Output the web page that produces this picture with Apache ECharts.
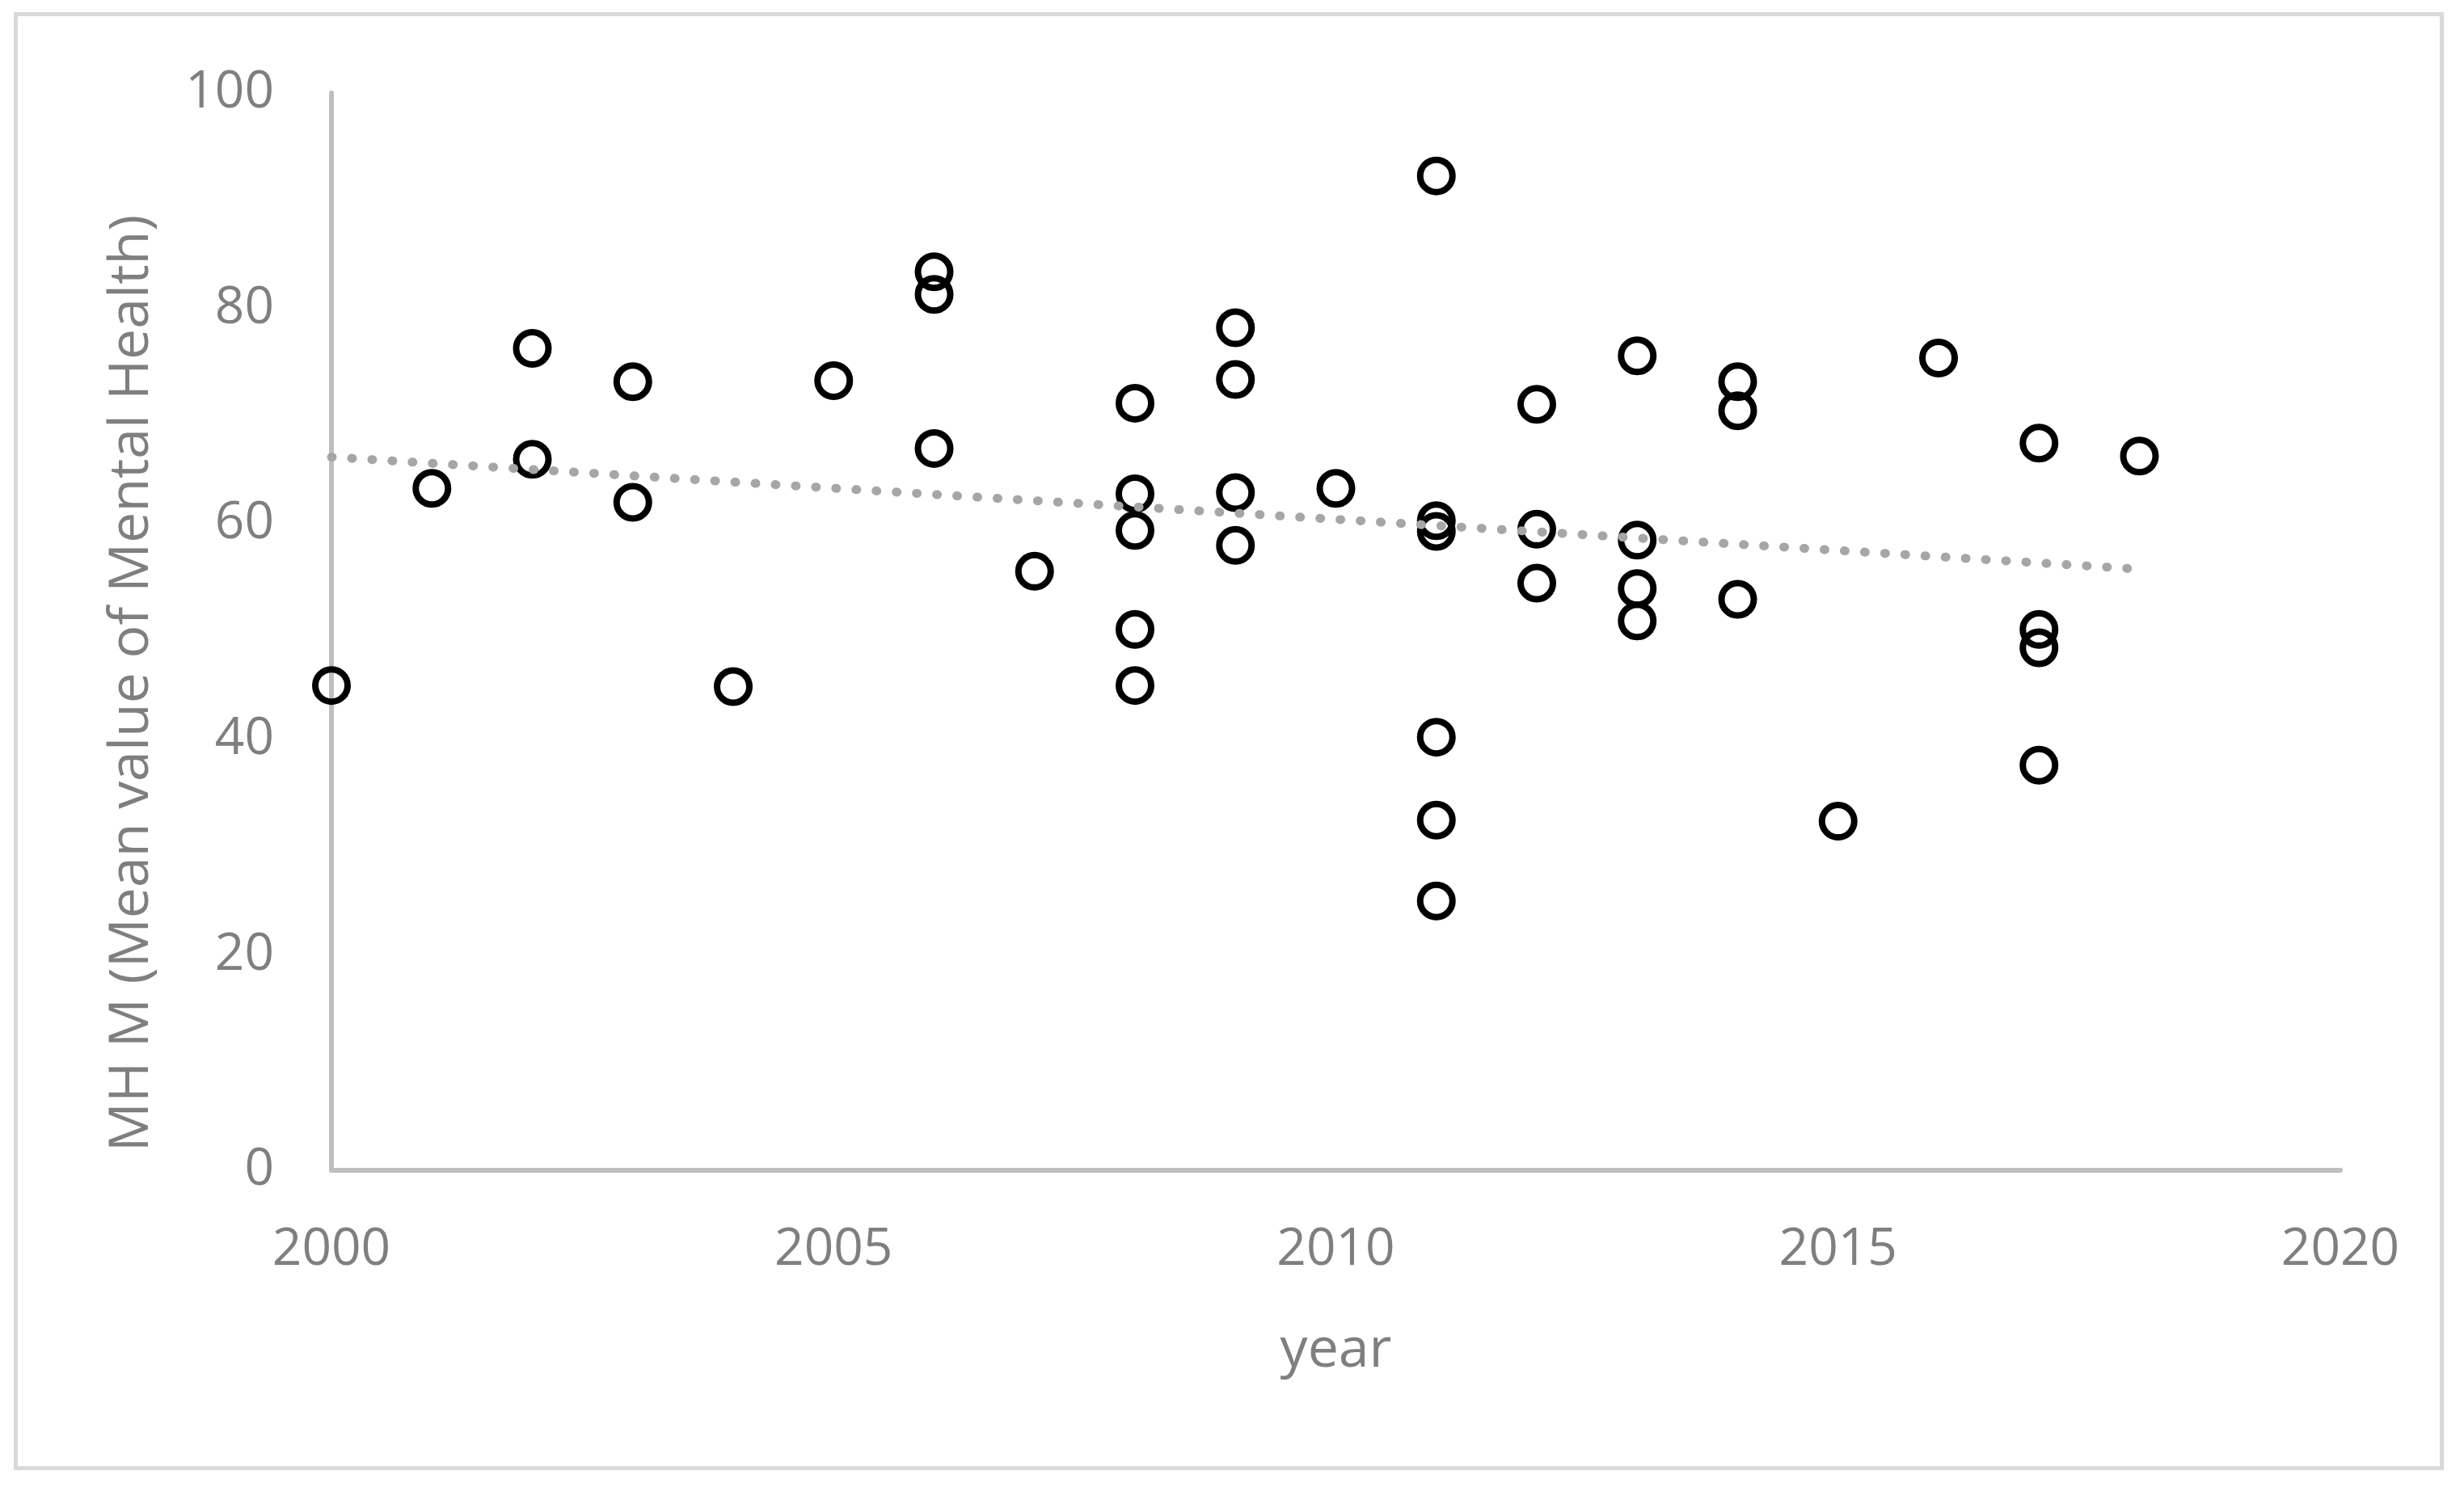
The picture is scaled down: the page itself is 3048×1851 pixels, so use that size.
<!DOCTYPE html>
<html>
<head>
<meta charset="utf-8">
<script src="https://cdn.jsdelivr.net/npm/echarts@6/dist/echarts.min.js"></script>
<style>
  html, body { margin: 0; padding: 0; background: #fff; }
  #chart { width: 3048px; height: 1851px; }
</style>
</head>
<body>
<div id="chart"></div>
<script>
// year of each study
var years = [
  2000, 2001, 2002, 2002, 2003, 2003, 2004, 2005,
  2006, 2006, 2006, 2007,
  2008, 2008, 2008, 2008, 2008,
  2009, 2009, 2009, 2009, 2010,
  2011, 2011, 2011, 2011, 2011, 2011,
  2012, 2012, 2012,
  2013, 2013, 2013, 2013,
  2014, 2014, 2014, 2015, 2016,
  2017, 2017, 2017, 2017, 2018
];
// MH M (mean value of mental health)
var mhValues = [
  45.0, 63.3, 76.3, 66.0, 73.2, 62.0, 44.9, 73.3,
  83.4, 81.3, 67.0, 55.6,
  71.2, 62.8, 59.4, 50.2, 45.0,
  78.2, 73.4, 62.9, 58.0, 63.3,
  92.3, 60.3, 59.3, 40.2, 32.5, 25.0,
  71.1, 59.5, 54.5,
  75.6, 58.5, 54.0, 51.0,
  73.2, 70.5, 53.0, 32.4, 75.4,
  67.5, 50.2, 48.5, 37.6, 66.3
];
// linear trendline ends as drawn
var trendYears = [2000, 2018];
var trendValues = [66.2, 55.8];

var xTicks = [2000, 2020, 5];
var yTicks = [0, 100, 20];

var points = years.map(function (y, i) { return [y, mhValues[i]]; });
var trend = trendYears.map(function (y, i) { return [y, trendValues[i]]; });

var labelFont = "'Open Sans', 'Noto Sans', sans-serif";
var chart = echarts.init(document.getElementById("chart"));

var option = {
  backgroundColor: "#ffffff",
  animation: false,
  graphic: [
    {
      type: "rect",
      shape: { x: 19.5, y: 17.5, width: 3001, height: 1799 },
      style: { fill: "none", stroke: "#D9D9D9", lineWidth: 5 },
      silent: true
    }
  ],
  grid: {
    left: 410,
    right: 153,
    top: 115,
    bottom: 403
  },
  xAxis: {
    type: "value",
    min: xTicks[0],
    max: xTicks[1],
    interval: xTicks[2],
    name: "year",
    nameLocation: "middle",
    nameGap: 190,
    nameTextStyle: { color: "#7F7F7F", fontSize: 68, fontFamily: labelFont },
    axisLine: { show: true, lineStyle: { color: "#BFBFBF", width: 6 } },
    axisTick: { show: false },
    axisLabel: {
      margin: 67,
      color: "#7F7F7F",
      fontSize: 64,
      fontFamily: labelFont,
      formatter: function (v) { return String(v); }
    },
    splitLine: { show: false }
  },
  yAxis: {
    type: "value",
    min: yTicks[0],
    max: yTicks[1],
    interval: yTicks[2],
    name: "MH M (Mean value of Mental Health)",
    nameLocation: "middle",
    nameGap: 212,
    nameTextStyle: {
      color: "#7F7F7F",
      fontSize: 68,
      fontFamily: labelFont,
      padding: [0, 128, 0, 0]
    },
    axisLine: { show: true, lineStyle: { color: "#BFBFBF", width: 6 } },
    axisTick: { show: false },
    axisLabel: {
      margin: 71,
      color: "#7F7F7F",
      fontSize: 64,
      fontFamily: labelFont
    },
    splitLine: { show: false }
  },
  series: [
    {
      name: "MH M",
      type: "scatter",
      symbol: "circle",
      symbolSize: 40,
      itemStyle: {
        color: "rgba(0,0,0,0)",
        borderColor: "#000000",
        borderWidth: 8,
        opacity: 1
      },
      data: points,
      z: 2
    },
    {
      name: "Linear trend",
      type: "line",
      showSymbol: false,
      symbol: "none",
      lineStyle: {
        color: "#A6A6A6",
        width: 11,
        type: [1, 24],
        cap: "round"
      },
      data: trend,
      z: 3
    }
  ]
};

chart.setOption(option);
window.addEventListener("resize", function () {
  chart.resize();
});
</script>
</body>
</html>
